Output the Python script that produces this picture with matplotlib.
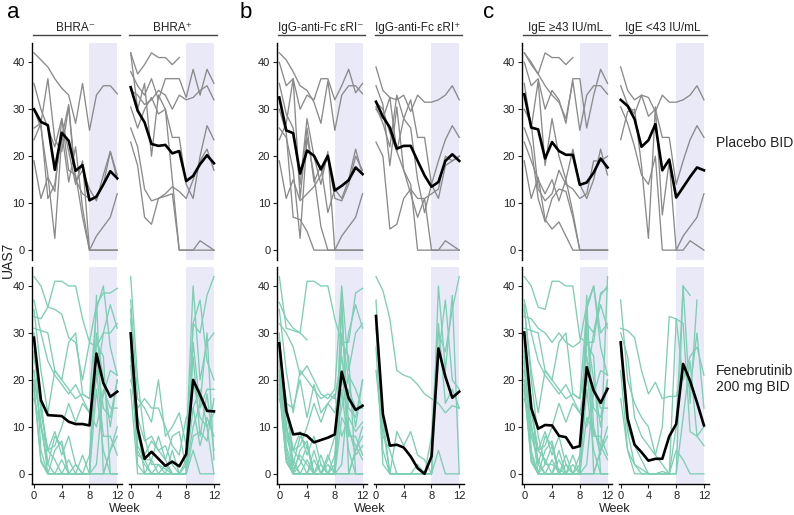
import numpy as np
import matplotlib
matplotlib.use('Agg')
import matplotlib.pyplot as plt
from matplotlib.transforms import blended_transform_factory

plt.rcParams['font.family'] = ['Liberation Sans', 'DejaVu Sans']

nan = np.nan
weeks = list(range(13))

# column headers, row labels, group letters
headers = ['BHRA⁻', 'BHRA⁺', 'IgG-anti-Fc εRI⁻', 'IgG-anti-Fc εRI⁺', 'IgE ≥43 IU/mL', 'IgE <43 IU/mL']
row_labels = ['Placebo BID', 'Fenebrutinib\n200 mg BID']
group_letters = ['a', 'b', 'c']

# mean UAS7 per subgroup, placebo
mean_pbo_bhra_neg = [30, 27.3, 26.6, 17.1, 25, 23.3, 16.9, 18.1, 10.6, 11.4, 14.0, 16.8, 15.3]
mean_pbo_bhra_pos = [34.7, 29.7, 27.2, 22.6, 22.2, 22.4, 20.6, 21.1, 14.7, 15.8, 18.3, 20.2, 18.5]
mean_pbo_igg_neg = [32.5, 25.5, 24.9, 16.3, 21.2, 20.1, 17.2, 20.1, 12.7, 13.7, 14.9, 17.6, 16.2]
mean_pbo_igg_pos = [31.6, 28.4, 26.1, 21.6, 22.2, 22.2, 19.0, 15.9, 13.5, 14.5, 19.0, 20.4, 19.0]
mean_pbo_ige_hi = [33.2, 26.1, 25.7, 19.5, 23.0, 21.1, 20.3, 20.3, 13.9, 14.4, 16.5, 19.5, 17.6]
mean_pbo_ige_lo = [32.0, 30.7, 27.9, 22.0, 23.4, 26.8, 17.0, 19.3, 11.2, 13.4, 15.6, 17.6, 17.0]

# mean UAS7 per subgroup, fenebrutinib
mean_fen_bhra_neg = [29, 15.7, 12.5, 12.4, 12.3, 11.1, 10.6, 10.6, 10.3, 25.6, 19.3, 16.4, 17.5]
mean_fen_bhra_pos = [29.9, 9.8, 3.2, 4.7, 3.2, 1.7, 2.6, 1.6, 4.2, 20.0, 16.8, 13.4, 13.3]
mean_fen_igg_neg = [27.8, 13.4, 8.4, 8.6, 8.1, 6.7, 7.2, 7.7, 8.4, 21.7, 16.1, 13.6, 14.5]
mean_fen_igg_pos = [33.6, 12.7, 6.0, 6.2, 5.6, 3.7, 1.2, 0.0, 3.7, 26.7, 20.7, 16.2, 17.5]
mean_fen_ige_hi = [30.1, 14.0, 9.6, 10.4, 10.3, 8.1, 7.8, 5.5, 5.9, 22.7, 17.7, 15.1, 18.1]
mean_fen_ige_lo = [28.0, 11.8, 6.2, 4.6, 2.8, 3.2, 3.2, 8.0, 10.6, 23.4, 19.8, 15.2, 10.3]

# individual patients, placebo
pbo_bhra_neg = [
    [42, 40.5, 39, 36.5, 34.5, 33, 27, 35.5, 25.5, 33, 35, 35, 33.3],
    [35.5, 30, 26, 22, 28, 21, 14, 19, 0, 0, 0, 0, 0],
    [23.5, 27, 36.5, 23.5, 21, 30.5, 14.5, 17, 13, 10.5, 16, 21, 15],
    [19, 11, 15.5, 12.5, 28, 17, 16, 7, 0, 3, 5, 7, 12],
    [30, 26, 16, 2.5, 24, 31, 15, 12, 11, 11, 14, 21, 16],
    [26, 27, 11, 14, 25, 14.5, 22, 9, 0, 0, 0, 0, 0],
]
pbo_bhra_pos = [
    [42, 37.5, 39.5, 42, 41, 41, 39.5, 41, nan, nan, nan, nan, nan],
    [38, 35, 33, 36.5, 32, 36.5, 36.5, 36.5, 32.5, 38.5, 33, 38.5, 35.5],
    [34, 33, 31, 32, 34, 33, 30, 33, 32, 32.5, 34, 35, 32],
    [30.5, 26, 30, 32.5, 29, 30, 24, 24, 14, 11, 20, 26.5, 23.5],
    [26, 22, 13, 10.5, 11, 12, 13.5, 12.5, 11, 15, 19, 21.5, 17],
    [23, 18, 7, 5.5, 11, 11.5, 12, 0, 0, 0, 2, 1, 0],
    [42, 30, 35.5, 20, 33, 30, 15, 0, 0, 0, 0, 0, 0],
]
pbo_igg_neg = [
    [42, 40.5, 38, 35, 34, 31.5, 27, 36, 25.5, 33, 35, 35, 33.3],
    [40, 35, 36.5, 30, 33, 32, 36.5, 36.5, 32, 35, 38.5, 33.5, 35.5],
    [35.5, 29, 26, 14, 28, 20, 14, 21, 0, 0, 0, 0, 0],
    [23.5, 27, 36.5, 11, 26, 14.5, 18, 8, 13, 11, 15, 21.5, 16],
    [19, 11, 15, 10.5, 12, 13.5, 16, 20, 11, 10.5, 14, 20, 17],
    [26, 24, 17, 2.5, 24, 16, 5, 0, 0, 3, 5, 7, 12],
    [30, 25, 7, 6.5, 4, 0, 0, 0, 0, 0, 0, 0, 0],
]
pbo_igg_pos = [
    [39, 34, 32.5, 32, 33, 29.5, 33, 31.5, 31.5, 32, 33, 35, 32],
    [30.5, 27, 22, 33, 28, 32, 24, 24, 14, 19, 23.5, 26.5, 24],
    [23, 20, 4.5, 5.5, 11, 13, 11, 11, 12, 13, 20, 19, 20],
    [35, 31, 18, 30.5, 17, 12, 7, 11, 0, 0, 2, 1, 0],
    [30, 28, 32.5, 21, 17, 14, 0, 0, 0, 0, 0, 0, 0],
    [31.5, 30, 25, 21, 28, 26, 15, 8, 14, 11, 18, 19, 20],
]
pbo_ige_hi = [
    [42, 39.5, 37.5, 42, 41, 41, 39.5, 41, nan, nan, nan, nan, nan],
    [40, 35, 36.5, 30, 34, 32, 27, 36.5, 36.5, 26, 33, 38.5, 35.5],
    [42, 40, 37.5, 35, 33, 31.5, 28, 36, 25.5, 33, 35, 35, 33.2],
    [35.5, 26, 36, 18, 28, 20, 15, 21.5, 14, 11, 15, 21.5, 16],
    [30, 27, 13, 10.5, 12, 17, 14, 13, 11, 12, 19, 19, 20],
    [23, 19, 15, 12, 15, 10.5, 15, 8, 0, 0, 0, 0, 0],
    [19, 11, 15.5, 6.5, 4.5, 6, 3, 0, 0, 0, 0, 0, 0],
    [26, 22, 11, 6, 11, 13, 12.5, 7, 0, 0, 0, 0, 0],
]
pbo_ige_lo = [
    [39, 34, 32, 33, 32.5, 29.5, 33, 31.5, 31.5, 32, 33, 35, 32],
    [35, 31, 29, 33, 28.5, 30, 24, 24, 14, 19, 23.5, 26.5, 24],
    [23.5, 29.5, 30, 18, 2.5, 30.5, 7.5, 19, 0, 3, 5, 7, 12],
    [30.5, 27, 22, 16, 14, 20, 0, 0, 0, 0, 2, 1, 0],
]

# individual patients, fenebrutinib
fen_bhra_neg = [
    [42, 40, 35.5, 35, 34, 29, 28, 20, 28, 27, 30, 30, 32],
    [33.5, 33, 35.5, 41, 41, 40, 40, 33, 28, 36, 38.5, 38.5, 39.5],
    [31, 30.5, 30, 22, 20, 28, 30, 17, 16, 35, 40, 27, 21],
    [35, 22, 13, 22, 20, 18, 16, 17, 16, 25, 14, 12, 20],
    [29, 13, 5, 9, 4, 8, 2, 0, 0, 38, 0, 0, 0],
    [22, 10, 2, 0, 0, 0, 0, 0, 0, 18, 5, 0, 0],
    [19, 3, 0, 0, 0, 0, 0, 0, 4, 22, 8, 8, 4],
    [25, 16, 2, 8, 6, 0, 0, 0, 0, 2, 18, 14, 14],
    [30, 5, 0, 0, 3, 0, 0, 0, 0, 30, 20, 10, 20],
    [37, 30, 24, 21, 19, 17, 19, 16, 13, 10, 17, 22, 21],
    [18, 2.5, 0, 0, 0, 0, 0, 0, 0, 0, 0, 5, 8],
    [20, 11, 0, 5, 7, 0, 2, 0, 0, 28, 25, 0, 0],
    [16, 10, 5, 6, 10, 15, 11, 15, 13, 20, 30, 36, 31],
    [26, 14, 5, 3, 0, 3, 0, 4, 0, 0, 0, 5, 10],
]
fen_bhra_pos = [
    [42, 20, 8, 2, 2, 1, 0, 0, 0, 32, 30, 38, 42],
    [37, 16, 14, 11, 20, 8, 10, 13, 6, 40, 20, 28, 30],
    [35, 5, 2, 0, 0, 0, 0, 0, 0, 32, 37, 24, 20],
    [30, 8, 4, 7, 5, 6, 2, 0, 3, 28, 14, 18, 18],
    [29, 10, 0, 0, 0, 2, 0, 0, 0, 20, 12, 10, 0],
    [27, 2, 0, 3, 0, 0, 0, 0, 2, 14, 6, 12, 8],
    [23, 6, 3, 3, 8, 3, 0, 0, 2, 25, 8, 17, 5],
    [18, 0, 0, 0, 0, 0, 0, 0, 0, 5, 0, 0, 0],
    [33, 12, 7, 8, 5, 3, 8, 9, 1, 10, 15, 30, 3],
    [25, 4, 3, 0, 2, 0, 5, 0, 0, 8, 9, 7, 16],
    [20, 14, 16, 14, 14, 10, 6, 4, 12, 14, 18, 10, 13],
]
fen_igg_neg = [
    [42, 31, 30.5, 30, 41, 41, 40, 40, 33, 28, 28, 38.5, 39.5],
    [36.5, 33, 31, 30, 28.5, nan, nan, nan, nan, nan, nan, nan, nan],
    [32, 30, 27, 21, 23, 20, 17, 16, 18, 40, 22, 30, 32],
    [35, 22, 13, 22, 20, 18, 16, 17, 16, 25, 14, 12, 20],
    [29, 13, 5, 9, 4, 8, 2, 0, 0, 38, 0, 0, 0],
    [22, 10, 2, 0, 0, 0, 0, 0, 0, 18, 5, 0, 0],
    [19, 3, 0, 0, 0, 0, 0, 0, 4, 22, 8, 8, 4],
    [25, 16, 2, 8, 6, 0, 0, 0, 0, 2, 18, 14, 14],
    [30, 5, 0, 0, 3, 0, 0, 0, 0, 30, 20, 10, 20],
    [17, 15, 14, 20, 12, 19, 13, 15, 17, 8, 12, 9, 11],
    [18, 2.5, 0, 0, 0, 0, 0, 0, 0, 0, 0, 5, 8],
    [20, 11, 0, 5, 7, 0, 2, 0, 0, 28, 25, 0, 0],
    [16, 10, 5, 6, 10, 15, 11, 15, 13, 20, 30, 36, 31],
    [26, 14, 5, 3, 0, 3, 0, 4, 0, 0, 0, 5, 10],
    [24, 4, 0, 2, 6, 0, 4, 0, 2, 35, 10, 4, 6],
    [28, 8, 3, 0, 0, 5, 0, 2, 0, 12, 9, 6, 3],
    [21, 6, 1, 4, 2, 0, 0, 3, 8, 14, 21, 18, 14],
]
fen_igg_pos = [
    [42, 39, 33, 22, 21, 20.5, 19, 17, 16, 15, 13, 14.5, 14],
    [37, 10, 0, 0, 0, 0, 0, 0, 0, 40, 22, 38, 0],
    [33, 5, 0, 9, 6, 9, 4, 3, 0, 5, 0, 0, 0],
    [27, 2, 0, 0, 0, 0, 2, 0, 0, 30, 26, 35, 42],
    [22, 8, 5, 0, 0, 0, 0, 0, 8, 32, 15, 18, 14],
    [31, 12, 0, 0, 0, 0, 0, 0, 0, 25, 37, 20, 18],
]
fen_ige_hi = [
    [42, 40, 35.5, 35, 41, 41, 40, 40, 29, 28, 28, 38.5, 39.5],
    [33.5, 33, 31, 30, 28, 30, 28, 27, 28, 36, 40, 30, 32],
    [31, 30.5, 30, 22, 20, 28, 30, 17, 16, 35, 40, 27, 21],
    [35, 22, 13, 22, 20, 18, 16, 17, 16, 25, 14, 12, 20],
    [29, 13, 5, 9, 4, 8, 2, 0, 0, 38, 0, 0, 0],
    [22, 10, 2, 0, 0, 0, 0, 0, 0, 18, 5, 0, 0],
    [19, 3, 0, 0, 0, 0, 0, 0, 4, 22, 8, 8, 4],
    [25, 16, 2, 8, 6, 0, 0, 0, 0, 2, 18, 14, 14],
    [30, 5, 0, 0, 3, 0, 0, 0, 0, 30, 20, 10, 20],
    [37, 30, 24, 21, 19, 17, 19, 16, 13, 10, 17, 22, 21],
    [18, 2.5, 0, 0, 0, 0, 0, 0, 0, 0, 0, 5, 8],
    [20, 11, 0, 5, 7, 0, 2, 0, 0, 28, 25, 0, 0],
    [16, 10, 5, 6, 10, 15, 11, 15, 13, 20, 30, 36, 31],
    [26, 14, 5, 3, 0, 3, 0, 4, 0, 0, 0, 5, 10],
    [24, 4, 0, 2, 6, 0, 4, 0, 2, 35, 10, 4, 42],
    [28, 8, 3, 0, 0, 5, 0, 2, 0, 12, 9, 6, 3],
    [36, 20, 8, 2, 2, 1, 0, 0, 0, 32, 30, 38, 40],
]
fen_ige_lo = [
    [37, 20, 15, 12, 10, 4, 2, 0, 0, 40, 15, 37, nan],
    [31, 30.5, 29, 22, 17, 19.5, 16, 16.5, 16.5, 23, 18, 30, 14],
    [28, 10, 6, 3, 0, 0, 0, 0, 33, 32, 9, 8, 6],
    [22, 5, 0, 0, 0, 0, 0, 0, 10, 40, 38, nan, nan],
    [16, 5, 2, 0, 0, 0, 0.5, 0, 5, 3, 0, 0, 0],
    [30, 25, 12, 8, 6, 4, 10, 33.5, 33, 20, 25, 27, 21],
    [26, 9, 2, 1, 0, 0, 0, 0, 0, 12, 24, 8, 10],
]

pbo_panels = [pbo_bhra_neg, pbo_bhra_pos, pbo_igg_neg, pbo_igg_pos, pbo_ige_hi, pbo_ige_lo]
fen_panels = [fen_bhra_neg, fen_bhra_pos, fen_igg_neg, fen_igg_pos, fen_ige_hi, fen_ige_lo]
pbo_means = [mean_pbo_bhra_neg, mean_pbo_bhra_pos, mean_pbo_igg_neg, mean_pbo_igg_pos, mean_pbo_ige_hi, mean_pbo_ige_lo]
fen_means = [mean_fen_bhra_neg, mean_fen_bhra_pos, mean_fen_igg_neg, mean_fen_igg_pos, mean_fen_ige_hi, mean_fen_ige_lo]

W, H = 794, 515
fig = plt.figure(figsize=(W / 100, H / 100), dpi=100)


def add_ax(left, top, width, height):
    # place an axes using pixel coordinates from the top-left corner
    return fig.add_axes([left / W, 1 - (top + height) / H, width / W, height / H])


col_left = [31.9, 128.6, 277.2, 373.9, 522.2, 618.6]
ax_w = 90.2
row_top = [43, 266.7]
ax_h = 217
shade = '#e9e9f8'
indiv_colors = ['#8a8a8a', '#7ccfb3']

for row in range(2):
    panels = pbo_panels if row == 0 else fen_panels
    means = pbo_means if row == 0 else fen_means
    for col in range(6):
        ax = add_ax(col_left[col], row_top[row], ax_w, ax_h)
        ax.axvspan(8, 12, color=shade, lw=0, zorder=0)
        for y in panels[col]:
            ax.plot(weeks, y, color=indiv_colors[row], lw=0.95, zorder=1)
        ax.plot(weeks, means[col], color='black', lw=1.9, zorder=3)
        ax.set_xlim(-0.3, 12.7)
        ax.set_ylim(-2.1, 44.1)
        for s in ['top', 'right']:
            ax.spines[s].set_visible(False)
        ax.tick_params(length=3, width=0.8, labelsize=8, colors='#222222', pad=2)
        if col % 2 == 0:
            ax.set_yticks([0, 10, 20, 30, 40])
            ax.spines['left'].set_linewidth(1.0)
        else:
            ax.spines['left'].set_visible(False)
            ax.set_yticks([])
        if row == 0:
            ax.spines['bottom'].set_visible(False)
            ax.set_xticks([])
            tr = blended_transform_factory(ax.transData, ax.transAxes)
            ax.plot([-0.2, 12.4], [1.035, 1.035], color='#444444', lw=1.0,
                    transform=tr, clip_on=False)
            ax.text(6, 1.07, headers[col], transform=tr, ha='center', va='center',
                    fontsize=8.5, color='#222222')
        else:
            ax.set_xticks([0, 4, 8, 12])
            ax.spines['bottom'].set_linewidth(1.0)

# group letters and week labels
for g in range(3):
    fig.text([7, 240, 483][g] / W, 1 - 18 / H, group_letters[g], fontsize=16,
             ha='left', va='baseline')
    cx = (col_left[2 * g] + col_left[2 * g + 1] + ax_w) / 2 - 1
    fig.text(cx / W, 1 - 509 / H, 'Week', fontsize=9, ha='center', va='center', color='#222222')

fig.text(8 / W, 1 - 260 / H, 'UAS7', fontsize=10, rotation=90, ha='center', va='center', color='#222222')
fig.text(716 / W, 1 - 143 / H, row_labels[0], fontsize=10, ha='left', va='center', color='#222222')
fig.text(716 / W, 1 - 379 / H, row_labels[1], fontsize=10, ha='left', va='center', color='#222222',
         linespacing=1.1)

fig.savefig('out.png', dpi=100)
